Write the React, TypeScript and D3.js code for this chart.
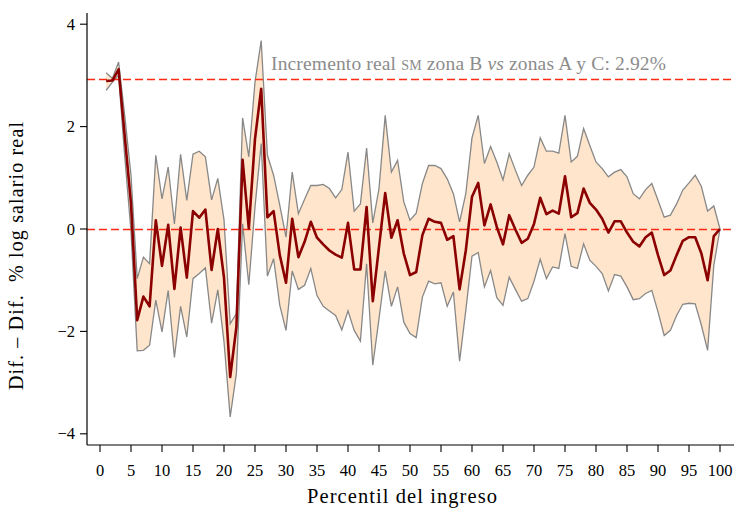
import React from "react";
import * as d3 from "d3";

// percentiles 1..100
const percentiles = d3.range(1, 101);

const estimate = [
  2.89, 2.9, 3.12, 1.8, 0.5, -1.78, -1.32, -1.51, 0.17, -0.72,
  0.08, -1.17, 0.03, -0.95, 0.35, 0.22, 0.38, -0.8, 0.0, -0.95,
  -2.89, -1.91, 1.35, 0.01, 1.76, 2.74, 0.23, 0.35, -0.51, -1.05,
  0.2, -0.55, -0.25, 0.14, -0.17, -0.3, -0.42, -0.5, -0.56, 0.12,
  -0.79, -0.79, 0.43, -1.41, -0.35, 0.7, -0.17, 0.17, -0.48, -0.9,
  -0.84, -0.12, 0.2, 0.14, 0.12, -0.21, -0.14, -1.18, -0.42, 0.63,
  0.9, 0.07, 0.48, 0.04, -0.3, 0.27, -0.01, -0.27, -0.19, 0.1,
  0.61, 0.29, 0.36, 0.3, 1.03, 0.23, 0.31, 0.79, 0.51, 0.38,
  0.2, -0.07, 0.15, 0.15, -0.07, -0.25, -0.34, -0.16, -0.07, -0.51,
  -0.9, -0.81, -0.51, -0.23, -0.16, -0.16, -0.48, -1.0, -0.14, 0,
];

const upper = [
  3.05, 2.94, 3.26, 2.2, 1.05, -0.97, -0.55, -0.68, 1.44, 0.59,
  1.21, 0.1, 1.46, 0.56, 1.46, 1.52, 1.41, 0.57, 0.99, 0.18,
  -1.85, -1.65, 2.17, 1.41, 2.87, 3.68, 1.44, 1.05, 0.46, -0.16,
  1.11, 0.3, 0.58, 0.85, 0.85, 0.87, 0.79, 0.61, 0.77, 1.5,
  0.35, 0.49, 1.58, 0.12, 0.79, 2.22, 1.11, 1.34, 0.53, 0.17,
  0.31, 0.89, 1.24, 1.24, 1.18, 0.98, 0.69, 0.14, 0.69, 1.78,
  2.22, 1.28, 1.61, 1.31, 0.96, 1.47, 1.15, 0.85, 1.05, 1.21,
  1.78, 1.52, 1.52, 1.48, 2.22, 1.31, 1.42, 1.96, 1.63, 1.31,
  1.18, 1.02, 1.11, 1.16, 1.02, 0.69, 0.59, 0.77, 0.89, 0.56,
  0.23, 0.27, 0.49, 0.76, 0.9, 1.05, 0.83, 0.35, 0.45, 0,
];

const lower = [
  2.71, 2.87, 3.0, 1.4, -0.05, -2.38, -2.37, -2.27, -1.39, -2.01,
  -1.2, -2.51, -1.51, -2.11, -0.97, -0.87, -0.76, -1.84, -1.19, -2.2,
  -3.67, -2.82, 0.1, -1.09, 0.43, 1.67, -0.92, -0.58, -1.49, -1.98,
  -0.82, -1.18, -1.1, -0.77, -1.3, -1.51, -1.6, -1.69, -1.97, -1.6,
  -1.98, -2.19, -0.68, -2.66, -1.75, -0.82, -1.51, -1.13, -1.82, -2.04,
  -2.12, -1.33, -1.02, -1.07, -1.05, -1.51, -1.23, -2.58, -1.59, -0.53,
  -0.46, -1.13, -0.81, -1.34, -1.49, -0.94, -1.18, -1.41, -1.36, -1.02,
  -0.59, -0.97, -0.74, -0.77, -0.09, -0.73, -0.77, -0.29, -0.61, -0.73,
  -0.87, -1.21, -0.89, -0.92, -1.13, -1.38, -1.36, -1.26, -1.2, -1.62,
  -2.08, -1.98, -1.69, -1.47, -1.45, -1.46, -1.88, -2.37, -0.71, 0,
];

const refLevel = 2.92;
const xTicks = d3.range(0, 101, 5);
const yTicks = [-4, -2, 0, 2, 4];

const W = 734;
const H = 508;
const FONT = "'Liberation Serif', 'DejaVu Serif', serif";

export default function App() {
  const x = d3.scaleLinear().domain([0, 100]).range([100, 720]);
  const y = d3.scaleLinear().domain([-4, 4]).range([433.8, 24.2]);
  const axisY = 445;
  const axisX = 87;

  const rows = percentiles.map((p, i) => ({
    p,
    est: estimate[i],
    hi: upper[i],
    lo: lower[i],
  }));

  const band = d3
    .area<any>()
    .x((d) => x(d.p))
    .y0((d) => y(d.lo))
    .y1((d) => y(d.hi));
  const bandTop = d3.line<any>().x((d) => x(d.p)).y((d) => y(d.hi));
  const bandBot = d3.line<any>().x((d) => x(d.p)).y((d) => y(d.lo));
  const line = d3.line<any>().x((d) => x(d.p)).y((d) => y(d.est));

  const fmt = y.tickFormat();

  return (
    <svg
      width={W}
      height={H}
      style={{ position: "absolute", left: 0, top: 0, background: "#fff" }}
      fontFamily={FONT}
    >
      {/* confidence band */}
      <path d={band(rows) ?? ""} fill="#fee5cb" stroke="none" />
      <path d={bandTop(rows) ?? ""} fill="none" stroke="#888" strokeWidth={1.3} />
      <path d={bandBot(rows) ?? ""} fill="none" stroke="#888" strokeWidth={1.3} />

      {/* reference lines */}
      {[0, refLevel].map((v) => (
        <line
          key={v}
          x1={axisX}
          x2={W}
          y1={Math.round(y(v)) + 0.5}
          y2={Math.round(y(v)) + 0.5}
          stroke="#ff2a14"
          strokeWidth={1.3}
          strokeDasharray="8,4"
        />
      ))}

      {/* estimate */}
      <path
        d={line(rows) ?? ""}
        fill="none"
        stroke="#8b0000"
        strokeWidth={2.6}
        strokeLinejoin="round"
      />

      {/* annotation */}
      <text x={271} y={70} fontSize={19.5} fill="#8c8c8c" textLength={395} lengthAdjust="spacing">
        Incremento real{" "}
        <tspan style={{ fontVariant: "small-caps" }}>sm</tspan> zona B{" "}
        <tspan fontStyle="italic">vs</tspan> zonas A y C: 2.92%
      </text>

      {/* y axis */}
      <line x1={axisX} x2={axisX} y1={13} y2={axisY} stroke="#000" strokeWidth={1.2} />
      {yTicks.map((t) => (
        <g key={t}>
          <line x1={axisX - 7} x2={axisX} y1={y(t)} y2={y(t)} stroke="#000" strokeWidth={1.1} />
          <text x={axisX - 12} y={y(t) + 5.5} textAnchor="end" fontSize={16.5}>
            {fmt(t)}
          </text>
        </g>
      ))}

      {/* x axis */}
      <line x1={axisX} x2={W} y1={axisY} y2={axisY} stroke="#000" strokeWidth={1.2} />
      {xTicks.map((t) => (
        <g key={t}>
          <line x1={x(t)} x2={x(t)} y1={axisY} y2={axisY + 7} stroke="#000" strokeWidth={1.1} />
          <text x={x(t)} y={axisY + 31} textAnchor="middle" fontSize={16.5}>
            {t}
          </text>
        </g>
      ))}

      {/* axis titles */}
      <text x={402} y={503} textAnchor="middle" fontSize={20.5} textLength={190} lengthAdjust="spacing">
        Percentil del ingreso
      </text>
      <text
        transform="translate(23,256) rotate(-90)"
        textAnchor="middle"
        fontSize={20}
        textLength={268}
        lengthAdjust="spacing"
        style={{ whiteSpace: "pre" }}
      >
        {"Dif. – Dif.  % log salario real"}
      </text>
    </svg>
  );
}
